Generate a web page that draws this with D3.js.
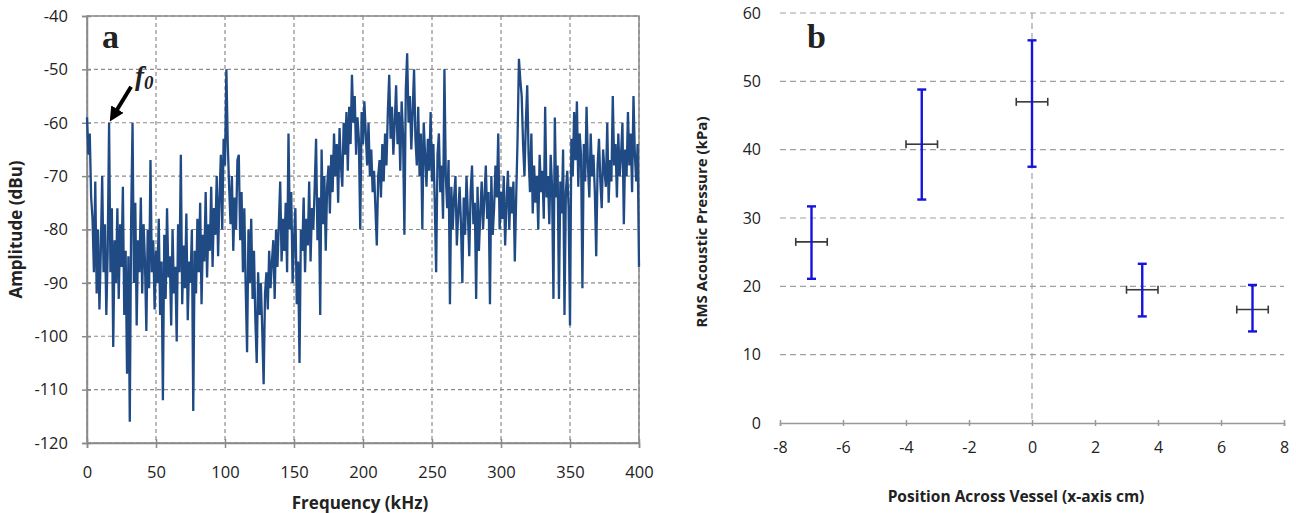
<!DOCTYPE html>
<html>
<head>
<meta charset="utf-8">
<script src="https://cdnjs.cloudflare.com/ajax/libs/d3/7.8.5/d3.min.js"></script>
<style>
  body { margin: 0; background: #fff; }
  svg text { font-family: "Open Sans", "Liberation Sans", sans-serif; fill: #222; }
</style>
</head>
<body>
<div id="chart"></div>
<script>
// panel a: spectrum, one value per kHz from 0 to 400
var freqStep = 1;
var amplitude = [
  -59, -66, -62, -74, -78, -88, -71, -92, -80, -95,
  -84, -70, -88, -79, -96, -84, -60, -88, -76, -102,
  -82, -90, -76, -93, -79, -87, -72, -96, -84, -107,
  -85, -116, -78, -60, -90, -75, -98, -82, -88, -74,
  -92, -79, -86, -99, -80, -91, -67, -88, -82, -95,
  -84, -90, -78, -96, -86, -112, -81, -93, -76, -89,
  -85, -98, -80, -92, -87, -101, -79, -88, -66, -94,
  -83, -91, -77, -97, -86, -90, -80, -114, -84, -92,
  -78, -88, -75, -94, -81, -86, -73, -89, -79, -84,
  -72, -87, -76, -81, -70, -85, -74, -66, -80, -63,
  -68, -50, -64, -72, -79, -70, -84, -74, -80, -67,
  -66, -82, -73, -88, -76, -91, -103, -80, -90, -78,
  -93, -84, -97, -105, -88, -96, -90, -99, -109, -92,
  -88, -95, -84, -91, -86, -82, -93, -80, -87, -79,
  -71, -86, -78, -84, -75, -88, -62, -80, -73, -90,
  -82, -76, -94, -86, -105, -80, -84, -74, -88, -78,
  -83, -71, -86, -76, -80, -72, -63, -82, -74, -96,
  -65, -79, -70, -84, -72, -68, -77, -66, -73, -62,
  -70, -64, -75, -61, -68, -72, -60, -66, -58, -69,
  -57, -64, -51, -60, -55, -66, -59, -63, -80, -58,
  -64, -56, -62, -68, -60, -70, -65, -73, -69, -76,
  -83, -70, -67, -74, -64, -71, -62, -68, -58, -51,
  -63, -57, -66, -60, -53, -64, -58, -69, -56, -62,
  -81, -54, -47, -60, -55, -65, -58, -50, -63, -68,
  -57, -70, -62, -80, -60, -66, -72, -63, -69, -58,
  -71, -64, -75, -88, -66, -62, -73, -68, -78, -50,
  -70, -76, -67, -94, -72, -80, -74, -70, -83, -77,
  -72, -79, -90, -74, -81, -70, -77, -85, -73, -68,
  -79, -75, -93, -72, -84, -77, -71, -80, -74, -68,
  -78, -73, -94, -70, -81, -76, -68, -74, -62, -80,
  -73, -78, -70, -83, -75, -69, -80, -72, -77, -71,
  -86, -74, -63, -48, -52, -55, -64, -70, -60, -53,
  -66, -73, -62, -77, -68, -75, -70, -80, -66, -73,
  -69, -78, -57, -74, -70, -79, -66, -72, -93, -59,
  -74, -68, -93, -71, -77, -65, -96, -73, -69, -76,
  -98, -63, -70, -58, -67, -56, -72, -62, -66, -91,
  -64, -71, -57, -68, -74, -62, -70, -66, -73, -85,
  -68, -63, -71, -76, -65, -69, -72, -60, -75, -67,
  -71, -55, -68, -64, -74, -62, -70, -66, -60, -79,
  -65, -70, -58, -68, -62, -73, -55, -66, -71, -64,
  -87
];
var freqTicks = [0, 50, 100, 150, 200, 250, 300, 350, 400];
var ampTicks = [-40, -50, -60, -70, -80, -90, -100, -110, -120];
var f0 = 16;

// panel b: pressure across the vessel
var positions = [-7, -3.5, 0, 3.5, 7];
var pressure = [26.5, 40.8, 47.0, 19.5, 16.6];
var pressureHigh = [31.7, 48.8, 56.0, 23.3, 20.2];
var pressureLow = [21.1, 32.7, 37.5, 15.6, 13.4];
var positionErr = [0.5, 0.5, 0.5, 0.5, 0.5];
var posTicks = [-8, -6, -4, -2, 0, 2, 4, 6, 8];
var pressTicks = [0, 10, 20, 30, 40, 50, 60];

var svg = d3.select("#chart").append("svg")
  .attr("width", 1296).attr("height", 513);

var gridColor = "#8c8c8c";
// plain hyphen minus, like the original
var plain = function(d) { return String(d); };

function drawPanelA() {
  var x = d3.scaleLinear().domain([0, 400]).range([87, 639]);
  var y = d3.scaleLinear().domain([-120, -40]).range([443, 16]);
  var g = svg.append("g");

  // grid
  g.selectAll(".hg").data(ampTicks).join("line")
    .attr("x1", x(0)).attr("x2", x(400))
    .attr("y1", function(d) { return y(d); }).attr("y2", function(d) { return y(d); })
    .attr("stroke", gridColor).attr("stroke-width", 1.2).attr("stroke-dasharray", "4,3");
  g.selectAll(".vg").data(freqTicks).join("line")
    .attr("x1", function(d) { return x(d); }).attr("x2", function(d) { return x(d); })
    .attr("y1", y(-40)).attr("y2", y(-120))
    .attr("stroke", gridColor).attr("stroke-width", 1.2).attr("stroke-dasharray", "4,3");
  g.append("rect")
    .attr("x", x(0)).attr("y", y(-40))
    .attr("width", x(400) - x(0)).attr("height", y(-120) - y(-40))
    .attr("fill", "none").attr("stroke", "#8a8a8a").attr("stroke-width", 1.5);

  // axes
  var xAxis = g.append("g").attr("transform", "translate(0," + y(-120) + ")")
    .call(d3.axisBottom(x).tickValues(freqTicks).tickFormat(plain).tickSize(5).tickPadding(18));
  var yAxis = g.append("g").attr("transform", "translate(" + x(0) + ",0)")
    .call(d3.axisLeft(y).tickValues(ampTicks).tickFormat(plain).tickSize(5).tickPadding(14));
  [xAxis, yAxis].forEach(function(a) {
    a.select(".domain").attr("stroke", "#8a8a8a").attr("stroke-width", 1.5);
    a.selectAll(".tick line").attr("stroke", "#8a8a8a").attr("stroke-width", 1.5);
    a.selectAll(".tick text").style("font-size", "16.5px").attr("fill", "#222");
  });
  xAxis.selectAll(".tick line").attr("y1", -4);
  yAxis.selectAll(".tick line").attr("x1", 4);

  // spectrum
  var line = d3.line()
    .x(function(d, i) { return x(i * freqStep); })
    .y(function(d) { return y(d); });
  g.append("path").datum(amplitude)
    .attr("d", line)
    .attr("fill", "none").attr("stroke", "#1f4a84").attr("stroke-width", 2.3)
    .attr("stroke-linejoin", "miter");

  // titles
  g.append("text").attr("x", 360).attr("y", 509).attr("text-anchor", "middle")
    .style("font-size", "17px").style("font-weight", "bold").text("Frequency (kHz)");
  g.append("text").attr("transform", "translate(22," + y(-80) + ") rotate(-90)")
    .attr("text-anchor", "middle")
    .style("font-size", "17px").style("font-weight", "bold").text("Amplitude (dBu)");

  g.append("text").attr("x", 102).attr("y", 48)
    .style("font-family", "'Liberation Serif', 'DejaVu Serif', serif")
    .style("font-size", "34px").style("font-weight", "bold").attr("fill", "#000").text("a");

  // f0 arrow
  var tipX = x(f0), tipY = y(-60);
  svg.append("defs").append("marker")
    .attr("id", "arrowHead").attr("viewBox", "0 0 10 10")
    .attr("refX", 7).attr("refY", 5)
    .attr("markerWidth", 3.6).attr("markerHeight", 3.6)
    .attr("orient", "auto")
    .append("path").attr("d", "M0,0L10,5L0,10z").attr("fill", "#000");
  g.append("line")
    .attr("x1", tipX + 22).attr("y1", tipY - 36)
    .attr("x2", tipX + 3).attr("y2", tipY - 5)
    .attr("stroke", "#000").attr("stroke-width", 4)
    .attr("marker-end", "url(#arrowHead)");
  var lab = g.append("text").attr("x", tipX + 26).attr("y", tipY - 38)
    .style("font-family", "'Liberation Serif', 'DejaVu Serif', serif")
    .style("font-style", "italic").style("font-weight", "bold")
    .style("font-size", "27px").attr("fill", "#000");
  lab.append("tspan").text("f");
  lab.append("tspan").attr("dy", 4).style("font-size", "19px").text("0");
}

function drawPanelB() {
  var x = d3.scaleLinear().domain([-8, 8]).range([780, 1284]);
  var y = d3.scaleLinear().domain([0, 60]).range([423, 13]);
  var g = svg.append("g");

  g.selectAll(".hg").data(pressTicks.slice(1)).join("line")
    .attr("x1", x(-8)).attr("x2", x(8))
    .attr("y1", function(d) { return y(d); }).attr("y2", function(d) { return y(d); })
    .attr("stroke", "#a0a0a0").attr("stroke-width", 1.2).attr("stroke-dasharray", "6,4");
  g.append("line")
    .attr("x1", x(0)).attr("x2", x(0)).attr("y1", y(60)).attr("y2", y(0))
    .attr("stroke", "#a0a0a0").attr("stroke-width", 1.2).attr("stroke-dasharray", "6,4");

  var xAxis = g.append("g").attr("transform", "translate(0," + y(0) + ")")
    .call(d3.axisBottom(x).tickValues(posTicks).tickFormat(plain).tickSize(3).tickPadding(16));
  xAxis.select(".domain").attr("stroke", "#999").attr("stroke-width", 1.5);
  xAxis.selectAll(".tick line").attr("stroke", "#999").attr("stroke-width", 1.5).attr("y1", -3);
  xAxis.selectAll(".tick text").style("font-size", "16px").attr("fill", "#222");

  var yAxis = g.append("g").attr("transform", "translate(" + x(-8) + ",0)")
    .call(d3.axisLeft(y).tickValues(pressTicks).tickFormat(plain).tickSize(0).tickPadding(19));
  yAxis.select(".domain").remove();
  yAxis.selectAll(".tick text").style("font-size", "16px").attr("fill", "#222");

  // horizontal error bars
  var capH = 4;
  var hb = g.selectAll(".hbar").data(positions).join("g").attr("stroke", "#3a3a3a").attr("stroke-width", 1.6);
  hb.append("line")
    .attr("x1", function(d, i) { return x(d - positionErr[i]); })
    .attr("x2", function(d, i) { return x(d + positionErr[i]); })
    .attr("y1", function(d, i) { return y(pressure[i]); })
    .attr("y2", function(d, i) { return y(pressure[i]); });
  hb.append("line")
    .attr("x1", function(d, i) { return x(d - positionErr[i]); })
    .attr("x2", function(d, i) { return x(d - positionErr[i]); })
    .attr("y1", function(d, i) { return y(pressure[i]) - capH; })
    .attr("y2", function(d, i) { return y(pressure[i]) + capH; });
  hb.append("line")
    .attr("x1", function(d, i) { return x(d + positionErr[i]); })
    .attr("x2", function(d, i) { return x(d + positionErr[i]); })
    .attr("y1", function(d, i) { return y(pressure[i]) - capH; })
    .attr("y2", function(d, i) { return y(pressure[i]) + capH; });

  // vertical error bars
  var capW = 4.5;
  var vb = g.selectAll(".vbar").data(positions).join("g").attr("stroke", "#1414dc").attr("stroke-width", 2.4);
  vb.append("line")
    .attr("x1", function(d) { return x(d); }).attr("x2", function(d) { return x(d); })
    .attr("y1", function(d, i) { return y(pressureHigh[i]); })
    .attr("y2", function(d, i) { return y(pressureLow[i]); });
  vb.append("line")
    .attr("x1", function(d) { return x(d) - capW; }).attr("x2", function(d) { return x(d) + capW; })
    .attr("y1", function(d, i) { return y(pressureHigh[i]); })
    .attr("y2", function(d, i) { return y(pressureHigh[i]); });
  vb.append("line")
    .attr("x1", function(d) { return x(d) - capW; }).attr("x2", function(d) { return x(d) + capW; })
    .attr("y1", function(d, i) { return y(pressureLow[i]); })
    .attr("y2", function(d, i) { return y(pressureLow[i]); });

  g.append("text").attr("x", 1016).attr("y", 502).attr("text-anchor", "middle")
    .style("font-size", "15.5px").style("font-weight", "bold").text("Position Across Vessel (x-axis cm)");
  g.append("text").attr("transform", "translate(707,222) rotate(-90)")
    .attr("text-anchor", "middle")
    .style("font-size", "15px").style("font-weight", "bold").text("RMS Acoustic Pressure (kPa)");

  g.append("text").attr("x", 807).attr("y", 48)
    .style("font-family", "'Liberation Serif', 'DejaVu Serif', serif")
    .style("font-size", "34px").style("font-weight", "bold").attr("fill", "#000").text("b");
}

drawPanelA();
drawPanelB();
</script>
</body>
</html>
